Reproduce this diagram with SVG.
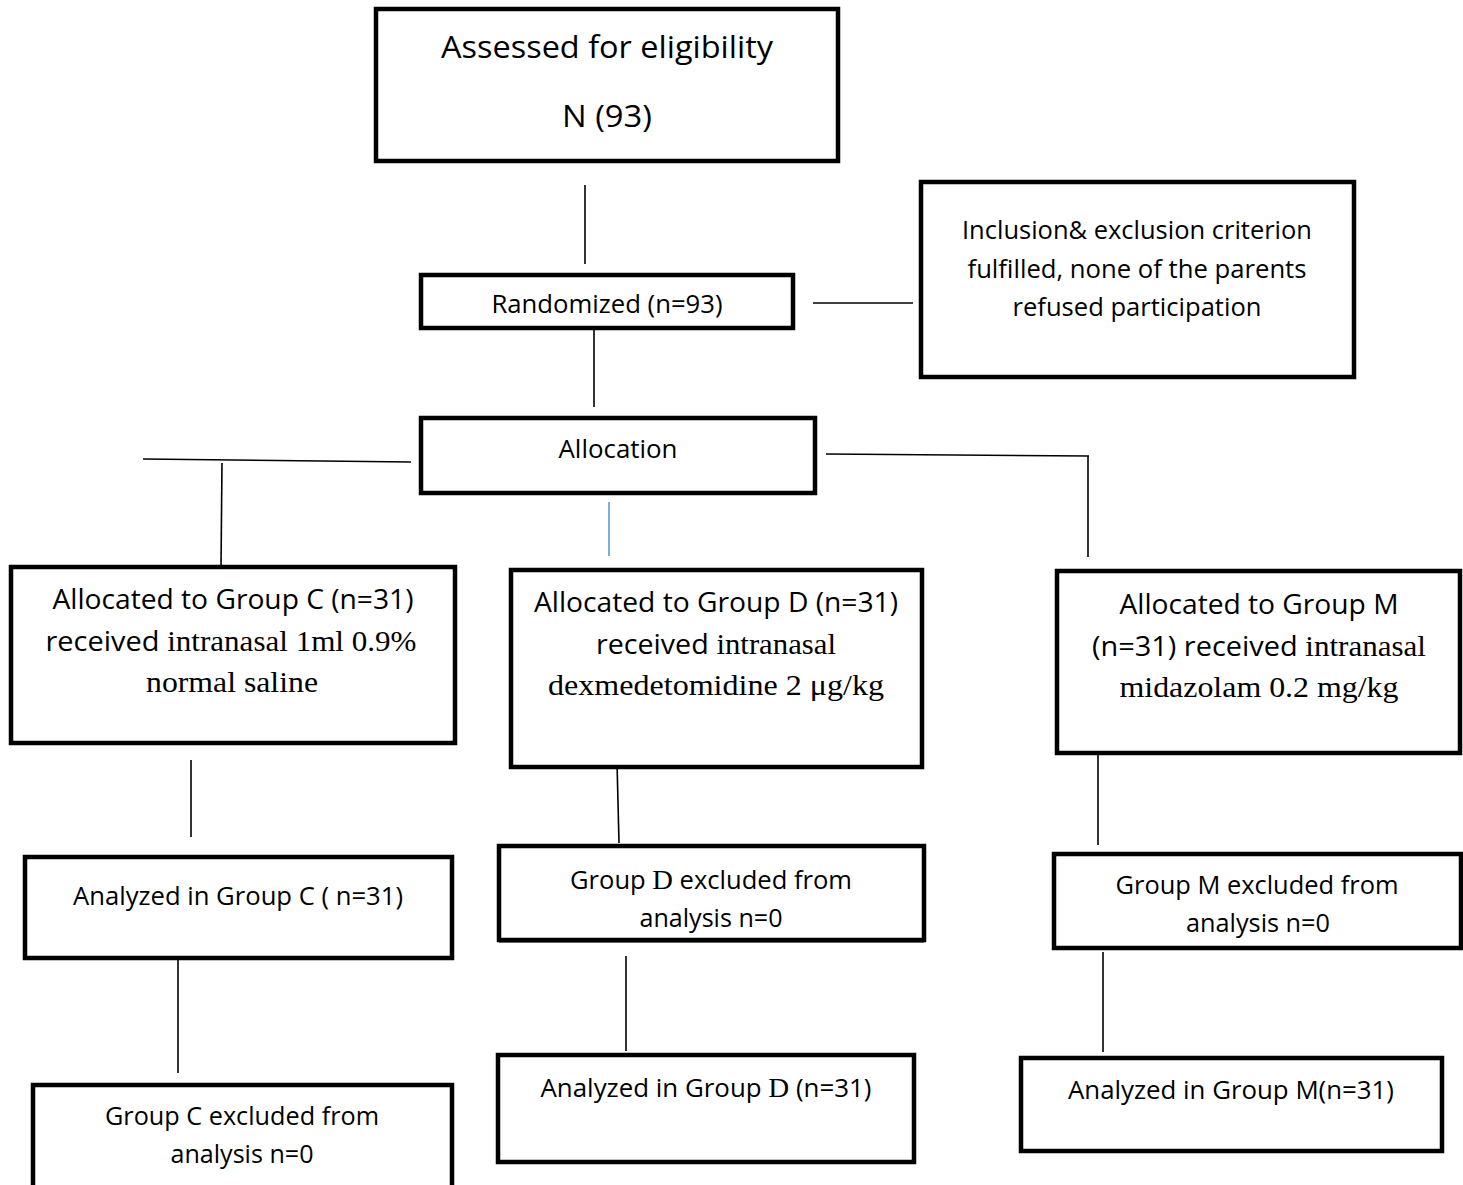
<svg xmlns="http://www.w3.org/2000/svg" width="1463" height="1185" viewBox="0 0 1463 1185">
<style>
.box{fill:#fff;stroke:#000;stroke-width:4.5}
.ln{stroke:#000;stroke-width:1.6;fill:none}
.s{font-family:"Open Sans","Noto Sans",sans-serif;fill:#000;text-anchor:middle}
.r{font-family:"Liberation Serif",serif}
</style>
<rect width="1463" height="1185" fill="#fff"/>
<g id="connectors">
<line class="ln" x1="585" y1="185" x2="585" y2="264"/>
<line class="ln" x1="813" y1="303" x2="913" y2="303"/>
<line class="ln" x1="594" y1="330" x2="594" y2="407"/>
<line class="ln" x1="143" y1="459" x2="411" y2="462"/>
<line class="ln" x1="222" y1="463" x2="221" y2="566"/>
<line x1="609" y1="502" x2="609" y2="556" stroke="#5B9BD5" stroke-width="1.6"/>
<line class="ln" x1="826" y1="454" x2="1089" y2="456"/>
<line class="ln" x1="1088" y1="456" x2="1088" y2="557"/>
<line class="ln" x1="191" y1="760" x2="191" y2="837"/>
<line class="ln" x1="617" y1="762" x2="619" y2="843"/>
<line class="ln" x1="1098" y1="750" x2="1098" y2="845"/>
<line class="ln" x1="178" y1="960" x2="178" y2="1073"/>
<line class="ln" x1="626" y1="956" x2="626" y2="1051"/>
<line class="ln" x1="1103" y1="952" x2="1103" y2="1052"/>
</g>
<g id="assessed">
<rect class="box" x="376" y="9" width="462" height="152"/>
<text class="s" x="607" y="58" font-size="31" textLength="332" lengthAdjust="spacingAndGlyphs">Assessed for eligibility</text>
<text class="s" x="607" y="127" font-size="31" textLength="90" lengthAdjust="spacingAndGlyphs">N (93)</text>
</g>
<g id="randomized">
<rect class="box" x="421" y="275" width="372" height="53"/>
<text class="s" x="607" y="313" font-size="25" textLength="231" lengthAdjust="spacingAndGlyphs">Randomized (n=93)</text>
</g>
<g id="inclusion">
<rect class="box" x="921" y="182" width="433" height="195"/>
<text class="s" x="1137" y="239" font-size="25" textLength="350" lengthAdjust="spacingAndGlyphs">Inclusion&amp; exclusion criterion</text>
<text class="s" x="1137" y="278" font-size="25" textLength="339" lengthAdjust="spacingAndGlyphs">fulfilled, none of the parents</text>
<text class="s" x="1137" y="316" font-size="25" textLength="249" lengthAdjust="spacingAndGlyphs">refused participation</text>
</g>
<g id="allocation">
<rect class="box" x="421" y="418" width="394" height="75"/>
<text class="s" x="618" y="458" font-size="25" textLength="119" lengthAdjust="spacingAndGlyphs">Allocation</text>
</g>
<g id="groupC">
<rect class="box" x="11" y="567" width="444" height="176"/>
<text class="s" x="233" y="609" font-size="27" textLength="361" lengthAdjust="spacingAndGlyphs">Allocated to Group C (n=31)</text>
<text class="s" x="231" y="651" font-size="27" textLength="371" lengthAdjust="spacingAndGlyphs">received<tspan class="r" font-size="29"> intranasal 1ml 0.9%</tspan></text>
<text class="s r" x="232" y="692" font-size="29" textLength="172" lengthAdjust="spacingAndGlyphs">normal saline</text>
</g>
<g id="groupD">
<rect class="box" x="511" y="570" width="411" height="197"/>
<text class="s" x="716" y="612" font-size="27" textLength="364" lengthAdjust="spacingAndGlyphs">Allocated to Group D (n=31)</text>
<text class="s" x="716" y="654" font-size="27" textLength="240" lengthAdjust="spacingAndGlyphs">received<tspan class="r" font-size="29"> intranasal</tspan></text>
<text class="s r" x="716" y="695" font-size="29" textLength="336" lengthAdjust="spacingAndGlyphs">dexmedetomidine 2 μg/kg</text>
</g>
<g id="groupM">
<rect class="box" x="1057" y="571" width="403" height="182"/>
<text class="s" x="1259" y="614" font-size="27" textLength="279" lengthAdjust="spacingAndGlyphs">Allocated to Group M</text>
<text class="s" x="1259" y="656" font-size="27" textLength="334" lengthAdjust="spacingAndGlyphs">(n=31) received<tspan class="r" font-size="29"> intranasal</tspan></text>
<text class="s r" x="1259" y="697" font-size="29" textLength="279" lengthAdjust="spacingAndGlyphs">midazolam 0.2 mg/kg</text>
</g>
<g id="analyzedC">
<rect class="box" x="25" y="857" width="427" height="101"/>
<text class="s" x="238" y="905" font-size="25" textLength="330" lengthAdjust="spacingAndGlyphs">Analyzed in Group C ( n=31)</text>
</g>
<g id="excludedD">
<rect class="box" x="499" y="846" width="425" height="94"/>
<text class="s" x="711" y="889" font-size="25" textLength="282" lengthAdjust="spacingAndGlyphs">Group <tspan class="r" font-size="28">D</tspan> excluded from</text>
<text class="s" x="711" y="927" font-size="25" textLength="143" lengthAdjust="spacingAndGlyphs">analysis n=0</text>
<rect x="499" y="938" width="425" height="4.5" fill="#000"/>
</g>
<g id="excludedM">
<rect class="box" x="1054" y="854" width="407" height="94"/>
<text class="s" x="1257" y="894" font-size="25" textLength="283" lengthAdjust="spacingAndGlyphs">Group M excluded from</text>
<text class="s" x="1258" y="932" font-size="25" textLength="144" lengthAdjust="spacingAndGlyphs">analysis n=0</text>
</g>
<g id="excludedC">
<rect class="box" x="33" y="1085" width="419" height="115"/>
<text class="s" x="242" y="1125" font-size="25" textLength="274" lengthAdjust="spacingAndGlyphs">Group C excluded from</text>
<text class="s" x="242" y="1163" font-size="25" textLength="143" lengthAdjust="spacingAndGlyphs">analysis n=0</text>
</g>
<g id="analyzedD">
<rect class="box" x="498" y="1055" width="416" height="107"/>
<text class="s" x="706" y="1097" font-size="25" textLength="331" lengthAdjust="spacingAndGlyphs">Analyzed in Group <tspan class="r" font-size="28">D</tspan> (n=31)</text>
</g>
<g id="analyzedM">
<rect class="box" x="1021" y="1058" width="421" height="93"/>
<text class="s" x="1231" y="1099" font-size="25" textLength="326" lengthAdjust="spacingAndGlyphs">Analyzed in Group M(n=31)</text>
</g>
</svg>
